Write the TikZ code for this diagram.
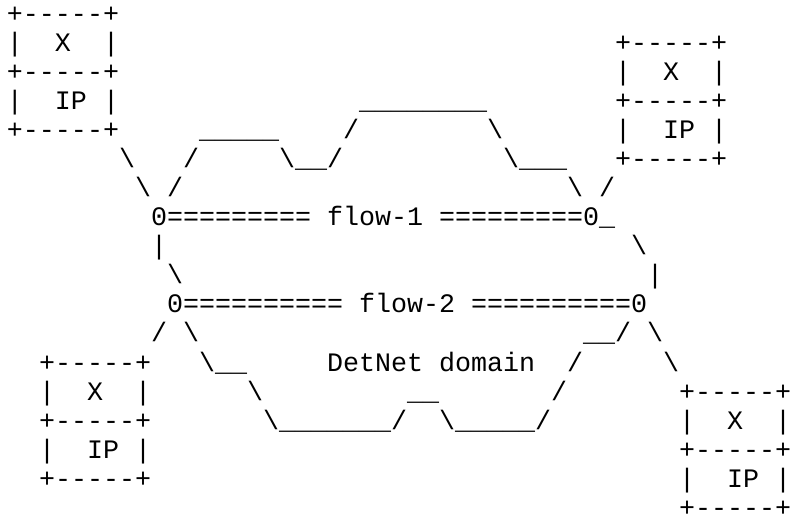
\documentclass[tikz,border=0pt]{standalone}
\usepackage{fontspec}
\setmonofont{Liberation Mono}

\newcommand{\bs}{\textbackslash}
% end system box: X over IP, five text rows
\newcommand{\hostbox}[3]{%
  \node[ascii] (#1-top) at (#2,#3)   {+-----+};
  \node[ascii] (#1-x)   at (#2,#3+1) {|~~X~~|};
  \node[ascii] (#1-mid) at (#2,#3+2) {+-----+};
  \node[ascii] (#1-ip)  at (#2,#3+3) {|~~IP~|};
  \node[ascii] (#1-bot) at (#2,#3+4) {+-----+};
}

\begin{document}
\begin{tikzpicture}[x=12pt,y=-21.75pt,
  ascii/.style={font=\ttfamily\fontsize{20}{22}\selectfont,anchor=base west,inner sep=0pt,outer sep=0pt}]
\useasboundingbox (-5.25pt,17.25pt) rectangle (588pt,-375pt);

% End systems
\hostbox{hostA}{0}{0}
\hostbox{hostB}{38}{1}
\hostbox{hostC}{2}{12}
\hostbox{hostD}{42}{13}

% Upper edge of the domain
\node[ascii] (topA) at (22,3) {\_\_\_\_\_\_\_\_};
\node[ascii] (topB) at (12,4) {\_\_\_\_\_};
\node[ascii] (topC) at (21,4) {/};
\node[ascii] (topD) at (30,4) {\bs};
\node[ascii] (linkA) at (7,5) {\bs};
\node[ascii] (topE) at (11,5) {/};
\node[ascii] (topF) at (17,5) {\bs\_\_/};
\node[ascii] (topG) at (31,5) {\bs\_\_\_};
\node[ascii] (linkAB) at (8,6) {\bs~/};
\node[ascii] (linkBB) at (35,6) {\bs~/};

% Flow 1
\node[ascii] (flow1) at (9,7) {0=========~flow-1~=========0\_};
\node[ascii] (leftA) at (9,8) {|};
\node[ascii] (rightA) at (39,8) {\bs};
\node[ascii] (leftB) at (10,9) {\bs};
\node[ascii] (rightB) at (40,9) {|};

% Flow 2
\node[ascii] (flow2) at (10,10) {0==========~flow-2~==========0};
\node[ascii] (linkC) at (9,11) {/~\bs};
\node[ascii] (linkD) at (36,11) {\_\_/~\bs};

% Lower edge of the domain
\node[ascii] (botA) at (12,12) {\bs\_\_};
\node[ascii] (domain) at (20,12) {DetNet~domain};
\node[ascii] (botB) at (35,12) {/};
\node[ascii] (linkDD) at (41,12) {\bs};
\node[ascii] (botC) at (15,13) {\bs};
\node[ascii] (botD) at (25,13) {\_\_};
\node[ascii] (botE) at (34,13) {/};
\node[ascii] (botF) at (16,14) {\bs\_\_\_\_\_\_\_/~~\bs\_\_\_\_\_/};

\end{tikzpicture}
\end{document}
